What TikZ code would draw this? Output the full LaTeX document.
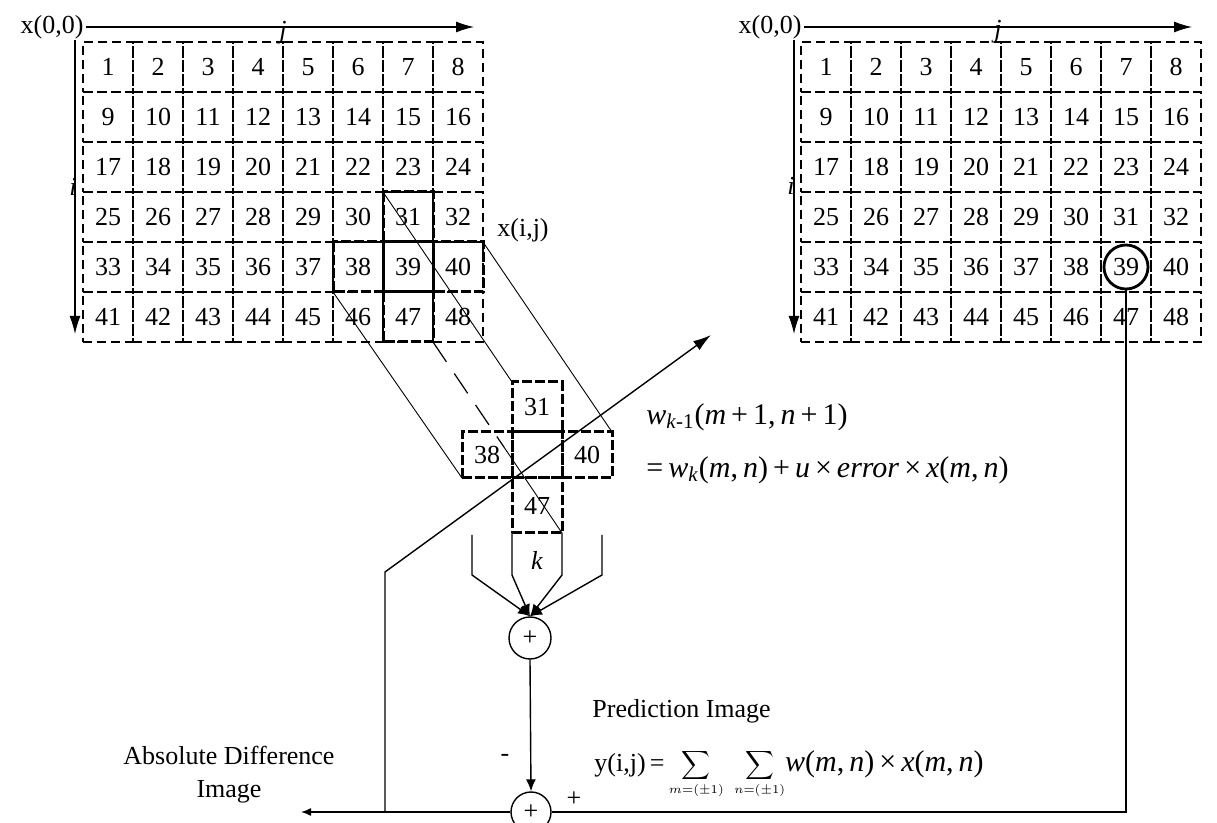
\documentclass[tikz,border=0pt]{standalone}
\usepackage{fontspec}
\setmainfont{Liberation Serif}
\usepackage{tikz}
\usetikzlibrary{arrows.meta,positioning,calc}

\begin{document}
\begin{tikzpicture}[
  x=0.5pt, y=-0.5pt,
  font=\fontsize{13}{15}\selectfont,
  cell/.style={draw,line width=0.6pt,dash pattern=on 4.5pt off 2.5pt,
               minimum size=25pt,inner sep=0pt,outer sep=0pt},
  xcell/.style={draw,line width=1.5pt,dash pattern=on 5pt off 1.5pt,
                minimum width=25pt,inner sep=0pt,outer sep=0pt},
  xline/.style={line width=1.5pt,dash pattern=on 5pt off 1.5pt},
  axisarrow/.style={-{Latex[length=9pt,width=5.5pt]},line width=0.6pt},
  proj/.style={line width=0.45pt},
  hiddenline/.style={line width=0.6pt,dash pattern=on 12pt off 7pt},
  conn/.style={line width=0.7pt},
  feed/.style={-{Latex[length=6pt,width=5pt]},line width=0.7pt},
  adder/.style={circle,draw,line width=0.7pt,inner sep=0pt},
  lbl/.style={inner sep=1pt},
  eqtxt/.style={font=\fontsize{15}{17}\selectfont,inner sep=0pt}]

\useasboundingbox (0,0) rectangle (1217,823);

% ---- the two 6x8 images -----------------------------------------------
\foreach \r in {0,...,5}{
  \foreach \c in {0,...,7}{
    \pgfmathtruncatemacro{\n}{8*\r+\c+1}
    \node[cell] (L\n) at (108+50*\c, 67+50*\r) {\n};
    \node[cell] (R\n) at (826+50*\c, 67+50*\r) {\n};
  }
}
\foreach \k in {31,38,39,40,47}
  \draw[xline] (L\k.north west) rectangle (L\k.south east);

% ---- axes -------------------------------------------------------------
\node[lbl] (x00L) at (52,27) {x(0,0)};
\coordinate (jTipL) at (474,27);
\draw[axisarrow] (x00L.east) -- (jTipL);
\node[lbl] (jL) at (283,33) {\textit{j}};
\coordinate (iTopL) at (75,40);
\coordinate (iTipL) at (75,334);
\draw[axisarrow] (iTopL) -- (iTipL);
\node[lbl] (iL) at (73,187) {\textit{i}};
\node[lbl] (xij) at (523,230) {x(i,j)};

\node[lbl] (x00R) at (770,27) {x(0,0)};
\coordinate (jTipR) at (1192,27);
\draw[axisarrow] (x00R.east) -- (jTipR);
\node[lbl] (jR) at (998,32) {\textit{j}};
\coordinate (iTopR) at (794,40);
\coordinate (iTipR) at (794,334);
\draw[axisarrow] (iTopR) -- (iTipR);
\node[lbl] (iR) at (791,186) {\textit{i}};

\node[circle,draw,line width=1.4pt,minimum size=22pt,inner sep=0pt] (ring) at (R39) {};

% ---- the cross window -------------------------------------------------
\node[xcell,minimum height=23pt] (Cc) at (537,455) {};
\node[xcell,minimum height=25pt,above=0pt of Cc] (C31) {31};
\node[xcell,minimum height=23pt,left=0pt of Cc]  (C38) {38};
\node[xcell,minimum height=23pt,right=0pt of Cc] (C40) {40};
\node[xcell,minimum height=27.5pt,below=0pt of Cc] (C47) {47};

\draw[proj] (L31.north west) -- (C31.north west);
\draw[proj] (L40.north east) -- (C40.north east);
\draw[proj] (L38.south west) -- (C38.south west);
\coordinate (hidEnd) at ($(L47.south east)!0.55!(C47.south east)$);
\draw[hiddenline] (L47.south east) -- (hidEnd);
\draw[proj] (hidEnd) -- (C47.south east);

% ---- weighting and summing --------------------------------------------
\node[adder,minimum size=21pt] (sumT) at (530,638) {+};
\node[adder,minimum size=20pt] (sumB) at (531,812) {+};
\node[lbl] (klbl) at (537,560) {\textit{k}};
\coordinate (kOL) at (472,535);
\coordinate (kOR) at (602,535);
\draw[feed] (kOL) -- ++(0,40) -- (sumT.north);
\draw[feed] (C47.south west) -- ++(0,42) -- (sumT.north);
\draw[feed] (C47.south east) -- ++(0,42) -- (sumT.north);
\draw[feed] (kOR) -- ++(0,40) -- (sumT.north);
\draw[feed] (sumT.south) -- (sumB.north);
\node[lbl] (minus) at (505,758) {-};
\node[lbl] (plus) at (574,799) {+};

% ---- error path -------------------------------------------------------
\coordinate (adTip) at (301,812);
\draw[conn] (ring.south) |- (sumB.east);
\draw[conn,-{Latex[length=5pt,width=4pt]}] (sumB.west) -- (adTip);
\coordinate (fbBase) at (385,812);
\coordinate (fbKnee) at (385,572);
\coordinate (fbTip) at (711,335);
\draw[conn,-{Latex[length=9pt,width=5.5pt]}] (fbBase) -- (fbKnee) -- (fbTip);

% ---- labels -----------------------------------------------------------
\node[lbl,align=center,font=\fontsize{13}{16.5}\selectfont] (adLbl) at (229,775)
  {Absolute Difference\\Image};
\node[lbl,anchor=west] (predLbl) at (590,711) {Prediction Image};
\node[lbl,anchor=west] (predEq) at (592,764)
  {y(i,j)\,=\,\smash{$\displaystyle\sum_{\scriptscriptstyle m=(\pm1)}\ \sum_{\scriptscriptstyle n=(\pm1)}$}%
   {\fontsize{15}{17}\selectfont\textit{w}(\textit{m},\,\textit{n})\,×\,\textit{x}(\textit{m},\,\textit{n})}};
\node[eqtxt,anchor=west] (wUpd) at (646,417)
  {\textit{w}\textsubscript{\textit{k}-1}(\textit{m}\,+\,1,\,\textit{n}\,+\,1)};
\node[eqtxt,anchor=west] (wRule) at (646,470)
  {=\,\textit{w}\textsubscript{\textit{k}}(\textit{m},\,\textit{n})\,+\,\textit{u}\,×\,\textit{error}\,×\,\textit{x}(\textit{m},\,\textit{n})};
\end{tikzpicture}
\end{document}
